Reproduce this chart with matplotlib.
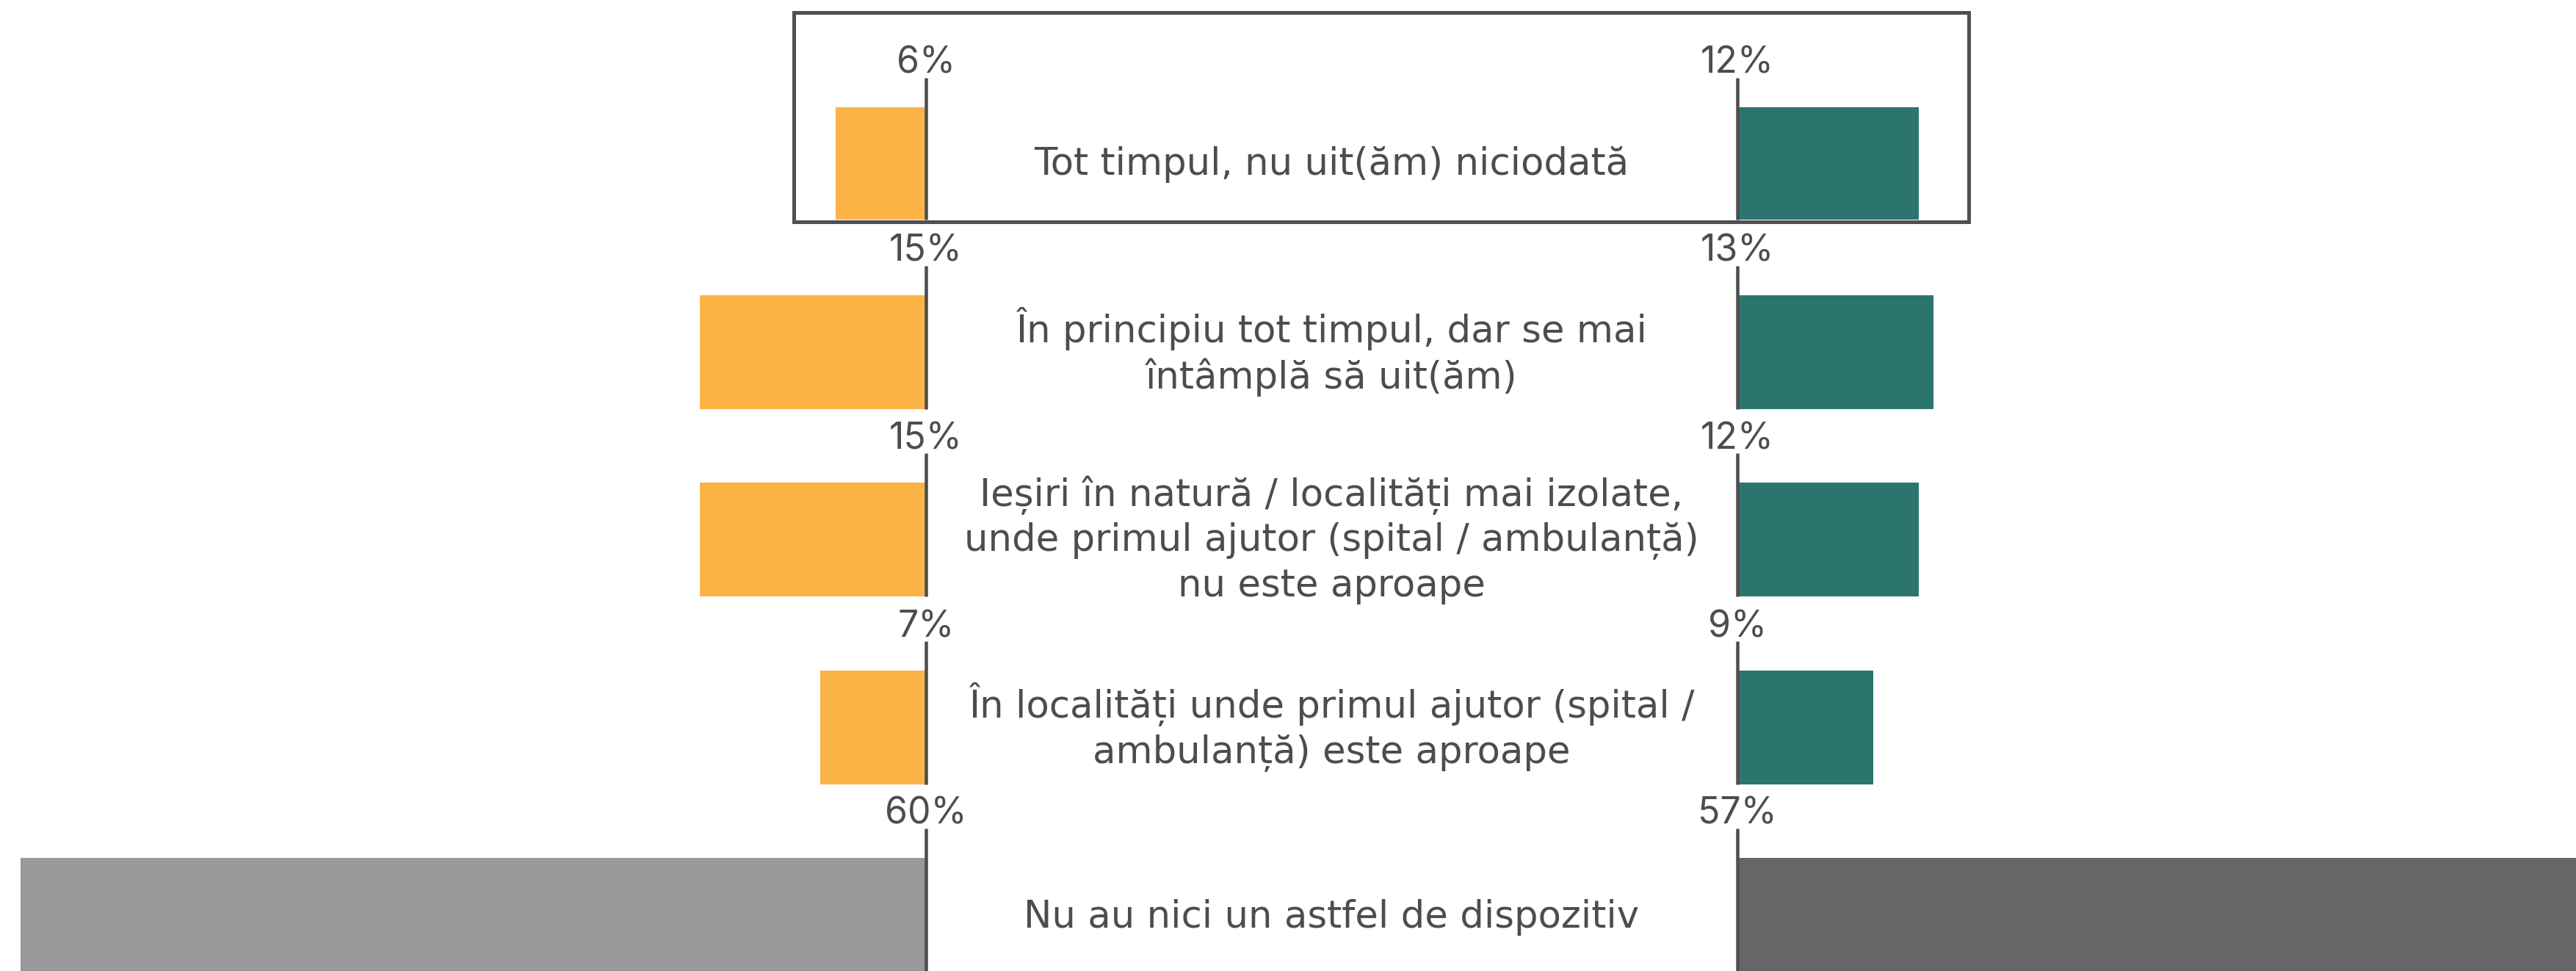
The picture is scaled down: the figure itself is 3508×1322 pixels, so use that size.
import matplotlib
matplotlib.use("Agg")
import matplotlib.pyplot as plt
from matplotlib.patches import Rectangle

# ---- data ----
categories = [
    "Tot timpul, nu uit(ăm) niciodată",
    "În principiu tot timpul, dar se mai\nîntâmplă să uit(ăm)",
    "Ieșiri în natură / localități mai izolate,\nunde primul ajutor (spital / ambulanță)\nnu este aproape",
    "În localități unde primul ajutor (spital /\nambulanță) este aproape",
    "Nu au nici un astfel de dispozitiv",
]
left_values = [6, 15, 15, 7, 60]
right_values = [12, 13, 12, 9, 57]

# ---- styling ----
ORANGE = "#FBB346"
TEAL = "#2C746E"
GREY_L = "#999999"
GREY_R = "#666666"
INK = "#4D4D4D"
left_colors = [ORANGE, ORANGE, ORANGE, ORANGE, GREY_L]
right_colors = [TEAL, TEAL, TEAL, TEAL, GREY_R]

LABEL_FONT = ["Inter", "DejaVu Sans"]
CAT_FONT = ["DejaVu Sans"]

W, H, DPI = 3508, 1322, 100
PX_PER_PCT = 20.55
X_LEFT0, X_RIGHT0 = 1261, 2366  # pixel positions of the two zero lines

# vertical layout of rows (pixels from top)
row_top = [146, 402, 657, 913, 1168]
row_bottom = [299, 557, 812, 1068, 1330]
text_y = [224, 479, 735, 990, 1249]

fig = plt.figure(figsize=(W / DPI, H / DPI), dpi=DPI)
fig.patch.set_facecolor("white")

ax_l = fig.add_axes([0, 0, X_LEFT0 / W, 1])
ax_r = fig.add_axes([X_RIGHT0 / W, 0, (W - X_RIGHT0) / W, 1])
ax_o = fig.add_axes([0, 0, 1, 1], zorder=5)
ax_o.patch.set_alpha(0)

ax_l.set_xlim(X_LEFT0 / PX_PER_PCT, 0)
ax_r.set_xlim(0, (W - X_RIGHT0) / PX_PER_PCT)
ax_o.set_xlim(0, W)
for ax in (ax_l, ax_r, ax_o):
    ax.set_ylim(H, 0)
    ax.axis("off")

centers = [(t + b) / 2 for t, b in zip(row_top, row_bottom)]
heights = [b - t for t, b in zip(row_top, row_bottom)]

LINE_W = 4.5 * 72 / DPI

for ax, vals, cols in ((ax_l, left_values, left_colors), (ax_r, right_values, right_colors)):
    ax.barh(centers, vals, height=heights, color=cols, left=0, zorder=1)
    for v, t, b in zip(vals, row_top, row_bottom):
        ax.plot([0, 0], [t - 40, b], color=INK, lw=LINE_W, solid_capstyle="butt",
                clip_on=False, zorder=3)
        ax.text(0, t - 46, f"{v}%", ha="center", va="baseline", fontsize=36,
                family=LABEL_FONT, color=INK, clip_on=False)

x_mid = (X_LEFT0 + X_RIGHT0) / 2
for cat, y in zip(categories, text_y):
    ax_o.text(x_mid, y, cat, ha="center", va="center", fontsize=37, family=CAT_FONT,
              color=INK, linespacing=1.27, multialignment="center")

# highlight frame around the first row
ax_o.add_patch(Rectangle((1080.5, 16.5), 2680.5 - 1080.5, 301.5 - 16.5, fill=False,
                         edgecolor="#505050", lw=5 * 72 / DPI, zorder=6))

fig.savefig("out.png", dpi=DPI, facecolor="white")
